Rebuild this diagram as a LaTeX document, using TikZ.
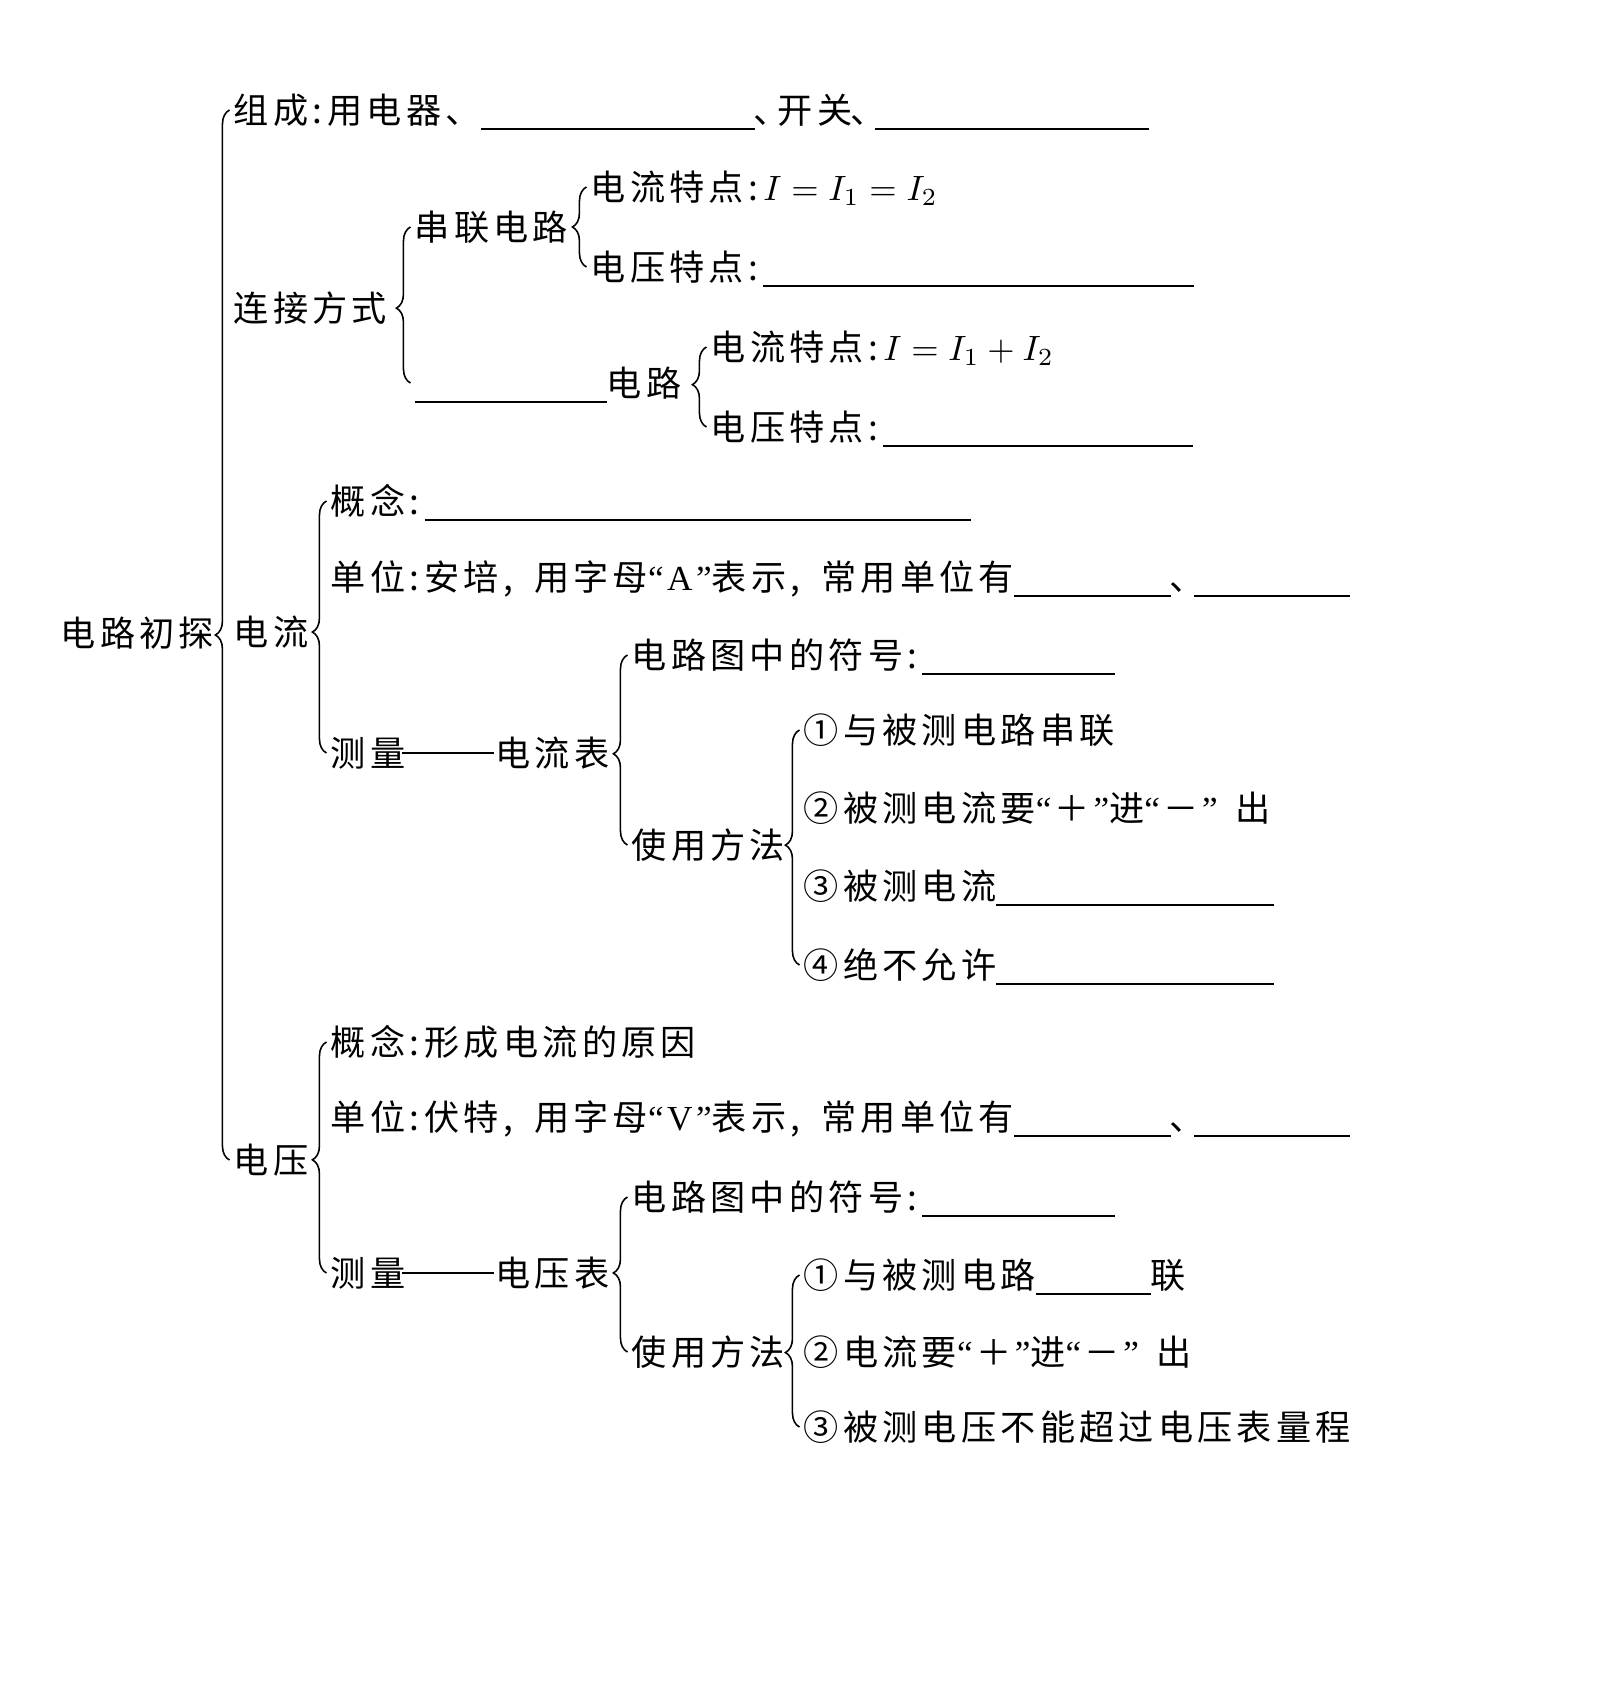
\documentclass[tikz,border=0pt]{standalone}
\usepackage{fontspec}
\setmainfont{Noto Sans CJK SC}[LetterSpace=12]
\newfontfamily\latin{Liberation Serif}[LetterSpace=12]
\usetikzlibrary{decorations.pathreplacing}
\newcommand{\blnk}[1]{\rule[-0.2em]{#1}{0.6pt}}
\newcommand{\longbar}[1]{\kern-1pt\rule[0.36em]{#1}{0.6pt}\kern0.5pt}
\newcommand{\dun}{\kern-0.05em 、\kern-0.3em}
\newcommand{\cln}{:\kern0.15em}
\newcommand{\cma}{,\kern0.6em}
\newcommand{\qt}[1]{{\latin “}\kern0.1em{#1}\kern0.1em{\latin ”}}
\begin{document}
\begin{tikzpicture}[
  x=0.01cm, y=-0.01cm,
  font=\fontsize{10pt}{12pt}\selectfont,
  txt/.style={anchor=west, inner sep=0pt, text height=0.88em, text depth=0.12em},
  brc/.style={decorate, decoration={brace, amplitude=4pt}, line width=0.45pt}
]
\useasboundingbox (0,0) rectangle (1599,1696);
\node[txt] (root) at (60,633) {电路初探};
\node[txt] (zc) at (233,110) {组成\cln 用电器、\blnk{2.74cm}\dun 开关\dun{}\blnk{2.74cm}};
\node[txt] (lj) at (233,308) {连接方式};
\node[txt] (dl) at (233,632) {电流};
\node[txt] (dy) at (233,1160) {电压};
\node[txt] (cl) at (414,227) {串联电路};
\node[txt] (bl) at (414,383) {\blnk{1.92cm}电路};
\node[txt] (cl1) at (590,187) {电流特点\cln$I=I_1=I_2$};
\node[txt] (cl2) at (590,267) {电压特点\cln\blnk{4.3cm}};
\node[txt] (bl1) at (710,347) {电流特点\cln$I=I_1+I_2$};
\node[txt] (bl2) at (710,427) {电压特点\cln\blnk{3.1cm}};
\node[txt] (dl1) at (330,501) {概念\cln\blnk{5.46cm}};
\node[txt] (dl2) at (330,577) {单位\cln 安培\cma 用字母\qt{\latin A}表示\cma 常用单位有\blnk{1.57cm}\dun{}\blnk{1.56cm}};
\node[txt] (dl3) at (330,753) {测量\longbar{0.92cm}电流表};
\node[txt] (db1) at (631,655) {电路图中的符号\cln\blnk{1.92cm}};
\node[txt] (db2) at (631,845) {使用方法};
\node[txt] (dm1) at (803,730) {①与被测电路串联};
\node[txt] (dm2) at (803,808) {②被测电流要\qt{＋}进\qt{－}\kern0.5em 出};
\node[txt] (dm3) at (803,886) {③被测电流\blnk{2.77cm}};
\node[txt] (dm4) at (803,965) {④绝不允许\blnk{2.77cm}};
\node[txt] (dy1) at (330,1042) {概念\cln 形成电流的原因};
\node[txt] (dy2) at (330,1117) {单位\cln 伏特\cma 用字母\qt{\latin V}表示\cma 常用单位有\blnk{1.57cm}\dun{}\blnk{1.56cm}};
\node[txt] (dy3) at (330,1273) {测量\longbar{0.92cm}电压表};
\node[txt] (vb1) at (631,1197) {电路图中的符号\cln\blnk{1.92cm}};
\node[txt] (vb2) at (631,1352) {使用方法};
\node[txt] (vm1) at (803,1275) {①与被测电路\blnk{1.15cm}联};
\node[txt] (vm2) at (803,1352) {②电流要\qt{＋}进\qt{－}\kern0.5em 出};
\node[txt] (vm3) at (803,1427) {③被测电压不能超过电压表量程};
\draw[brc, decoration={aspect=0.50}] ([xshift=-1pt]dy.west) -- ([xshift=-1pt]zc.west);
\draw[brc, decoration={aspect=0.48}] ([xshift=-1pt]bl.west) -- ([xshift=-1pt]cl.west);
\draw[brc, decoration={aspect=0.50}] ([xshift=-1pt]cl2.west) -- ([xshift=-1pt]cl1.west);
\draw[brc, decoration={aspect=0.53}] ([xshift=-1pt]bl2.west) -- ([xshift=-1pt]bl1.west);
\draw[brc, decoration={aspect=0.48}] ([xshift=-1pt]dl3.west) -- ([xshift=-1pt]dl1.west);
\draw[brc, decoration={aspect=0.48}] ([xshift=-1pt]db2.west) -- ([xshift=-1pt]db1.west);
\draw[brc, decoration={aspect=0.51}] ([xshift=-1pt]dm4.west) -- ([xshift=-1pt]dm1.west);
\draw[brc, decoration={aspect=0.49}] ([xshift=-1pt]dy3.west) -- ([xshift=-1pt]dy1.west);
\draw[brc, decoration={aspect=0.51}] ([xshift=-1pt]vb2.west) -- ([xshift=-1pt]vb1.west);
\draw[brc, decoration={aspect=0.49}] ([xshift=-1pt]vm3.west) -- ([xshift=-1pt]vm1.west);
\end{tikzpicture}
\end{document}
